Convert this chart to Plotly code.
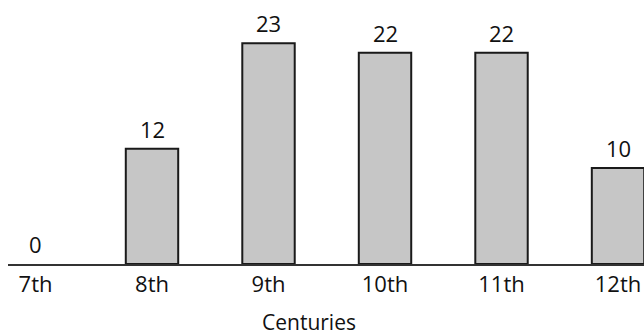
import plotly.graph_objects as go

categories = ["7th", "8th", "9th", "10th", "11th", "12th"]
values = [0, 12, 23, 22, 22, 10]
x_title = "Centuries"

FONT = "Open Sans, Noto Sans, sans-serif"

fig = go.Figure()
fig.add_trace(go.Bar(
    x=categories,
    y=values,
    width=0.45,
    marker=dict(
        color="#c6c6c6",
        line=dict(color="#1a1a1a", width=[0 if v == 0 else 2 for v in values]),
    ),
    hoverinfo="skip",
))

for c, v in zip(categories, values):
    fig.add_annotation(
        x=c, y=v, text=str(v), showarrow=False,
        yanchor="bottom", yshift=3,
        font=dict(family=FONT, size=22, color="#111"),
    )

fig.add_annotation(
    xref="paper", yref="paper", x=0.473, y=-0.2197,
    xanchor="center", yanchor="middle",
    text=x_title, showarrow=False,
    font=dict(family=FONT, size=21, color="#111"),
)

fig.update_layout(
    width=644, height=336,
    margin=dict(l=8, r=0, t=0, b=72),
    paper_bgcolor="white", plot_bgcolor="white",
    showlegend=False,
    font=dict(family=FONT, color="#111"),
    xaxis=dict(
        type="category",
        range=[-0.236, 5.223],
        showline=True, linecolor="#333", linewidth=2,
        showgrid=False, zeroline=False, ticks="",
        tickfont=dict(family=FONT, size=22, color="#111"),
        fixedrange=True,
    ),
    yaxis=dict(
        range=[0, 27.5],
        visible=False, showgrid=False, zeroline=False,
        fixedrange=True,
    ),
)

fig.write_html(
    "out.html",
    config={"displayModeBar": False},
    post_script="document.body.style.margin='0';document.body.style.overflow='hidden';",
)
